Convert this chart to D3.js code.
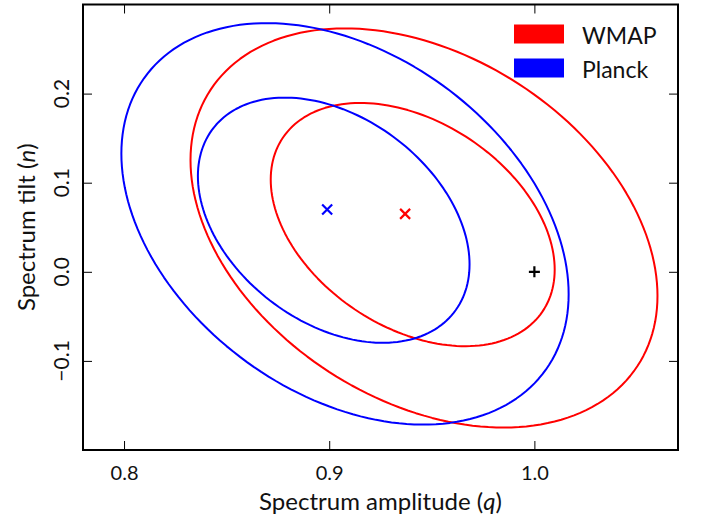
<!DOCTYPE html>
<html>
<head>
<meta charset="utf-8">
<script src="https://cdn.jsdelivr.net/npm/d3@7"></script>
<style>
  html, body { margin: 0; padding: 0; background: #fff; }
  svg { display: block; }
  text { font-family: Lato, "Open Sans", sans-serif; fill: #111; }
</style>
</head>
<body>
<svg id="chart" width="702" height="519"></svg>
<script>
// ---- data ----
const xTicks = [0.8, 0.9, 1.0];
const yTicks = [-0.1, 0.0, 0.1, 0.2];
const xTickLabels = ["0.8", "0.9", "1.0"];
const yTickLabels = ["\u22120.1", "0.0", "0.1", "0.2"];
const seriesNames = ["WMAP", "Planck"];
const seriesColors = ["#ff0000", "#0000ff"];
// confidence contours: [centre q, centre n, half-width q, half-height n, correlation]
const wmapContours = [
  [0.9407, 0.0530, 0.0692, 0.1365, -0.37],
  [0.9462, 0.0492, 0.1138, 0.2240, -0.34]
];
const planckContours = [
  [0.9022, 0.0579, 0.0662, 0.1376, -0.36],
  [0.9077, 0.0538, 0.1090, 0.2253, -0.35]
];
// best-fit points
const wmapBest = [0.937, 0.065];
const planckBest = [0.899, 0.070];
const reference = [1.0, 0.0];

// ---- layout ----
const W = 702, H = 519;
const L = 83, R = 678, T = 4.5, B = 450;
const svg = d3.select("#chart");
svg.append("rect").attr("width", W).attr("height", H).attr("fill", "#fff");

const x = d3.scaleLinear().domain([0.78, 1.07]).range([L, R]);
const y = d3.scaleLinear().domain([-0.2, 0.3]).range([B, T]);

function ellipsePoints(c) {
  const [cq, cn, sq, sn, rho] = c;
  const s = Math.sqrt(1 - rho * rho);
  return d3.range(0, 181).map(i => {
    const t = i / 180 * 2 * Math.PI;
    return [cq + sq * Math.cos(t), cn + sn * (rho * Math.cos(t) + s * Math.sin(t))];
  });
}
const line = d3.line().x(d => x(d[0])).y(d => y(d[1])).curve(d3.curveLinearClosed);

const g = svg.append("g");
[[wmapContours, seriesColors[0]], [planckContours, seriesColors[1]]].forEach(([cs, col]) => {
  cs.forEach(c => {
    g.append("path").attr("d", line(ellipsePoints(c)))
      .attr("fill", "none").attr("stroke", col).attr("stroke-width", 2)
      .attr("stroke-linejoin", "round");
  });
});

// markers
function cross(p, col) {
  const cx = x(p[0]), cy = y(p[1]), r = 5;
  svg.append("path")
    .attr("d", `M${cx - r},${cy - r}L${cx + r},${cy + r}M${cx - r},${cy + r}L${cx + r},${cy - r}`)
    .attr("stroke", col).attr("stroke-width", 2.2).attr("fill", "none");
}
function plus(p, col) {
  const cx = x(p[0]), cy = y(p[1]), r = 5.5;
  svg.append("path")
    .attr("d", `M${cx - r},${cy}L${cx + r},${cy}M${cx},${cy - r}L${cx},${cy + r}`)
    .attr("stroke", col).attr("stroke-width", 2.2).attr("fill", "none");
}
cross(planckBest, seriesColors[1]);
cross(wmapBest, seriesColors[0]);
plus(reference, "#000");

// axes (ticks inward on all sides)
const tickLen = 9;
const axB = svg.append("g").attr("transform", `translate(0,${B})`)
  .call(d3.axisBottom(x).tickValues(xTicks).tickSize(-tickLen).tickPadding(16)
        .tickFormat((d, i) => xTickLabels[i]));
const axT = svg.append("g").attr("transform", `translate(0,${T})`)
  .call(d3.axisTop(x).tickValues(xTicks).tickSize(-tickLen).tickFormat(""));
const axL = svg.append("g").attr("transform", `translate(${L},0)`)
  .call(d3.axisLeft(y).tickValues(yTicks).tickSize(-tickLen).tickFormat(""));
const axR = svg.append("g").attr("transform", `translate(${R},0)`)
  .call(d3.axisRight(y).tickValues(yTicks).tickSize(-tickLen).tickFormat(""));
[axB, axT, axL, axR].forEach(a => {
  a.select(".domain").remove();
  a.selectAll(".tick line").attr("stroke", "#000").attr("stroke-width", 1);
});
axB.selectAll(".tick text").attr("font-size", 20).attr("fill", "#111")
  .attr("font-family", "Lato, sans-serif").attr("dy", null).attr("y", 30);

// y tick labels rotated
yTicks.forEach((v, i) => {
  svg.append("text")
    .attr("transform", `translate(69,${y(v)}) rotate(-90)`)
    .attr("text-anchor", "middle")
    .attr("font-size", 21)
    .text(yTickLabels[i]);
});

// frame
svg.append("rect").attr("x", L).attr("y", T).attr("width", R - L).attr("height", B - T)
  .attr("fill", "none").attr("stroke", "#000").attr("stroke-width", 2);

// axis labels
const xl = svg.append("text").attr("x", (L + R) / 2).attr("y", 510)
  .attr("text-anchor", "middle").attr("font-size", 24);
xl.append("tspan").text("Spectrum amplitude (");
xl.append("tspan").attr("font-style", "italic").text("q");
xl.append("tspan").text(")");

const yl = svg.append("text").attr("transform", `translate(35,${(T + B) / 2}) rotate(-90)`)
  .attr("text-anchor", "middle").attr("font-size", 24);
yl.append("tspan").text("Spectrum tilt (");
yl.append("tspan").attr("font-style", "italic").text("n");
yl.append("tspan").text(")");

// legend
const leg = svg.append("g");
seriesNames.forEach((name, i) => {
  const yy = 24.5 + i * 34;
  leg.append("rect").attr("x", 514).attr("y", yy).attr("width", 50).attr("height", 19)
    .attr("fill", seriesColors[i]);
  leg.append("text").attr("x", 582).attr("y", yy + 19).attr("font-size", 23).text(name);
});
</script>
</body>
</html>
